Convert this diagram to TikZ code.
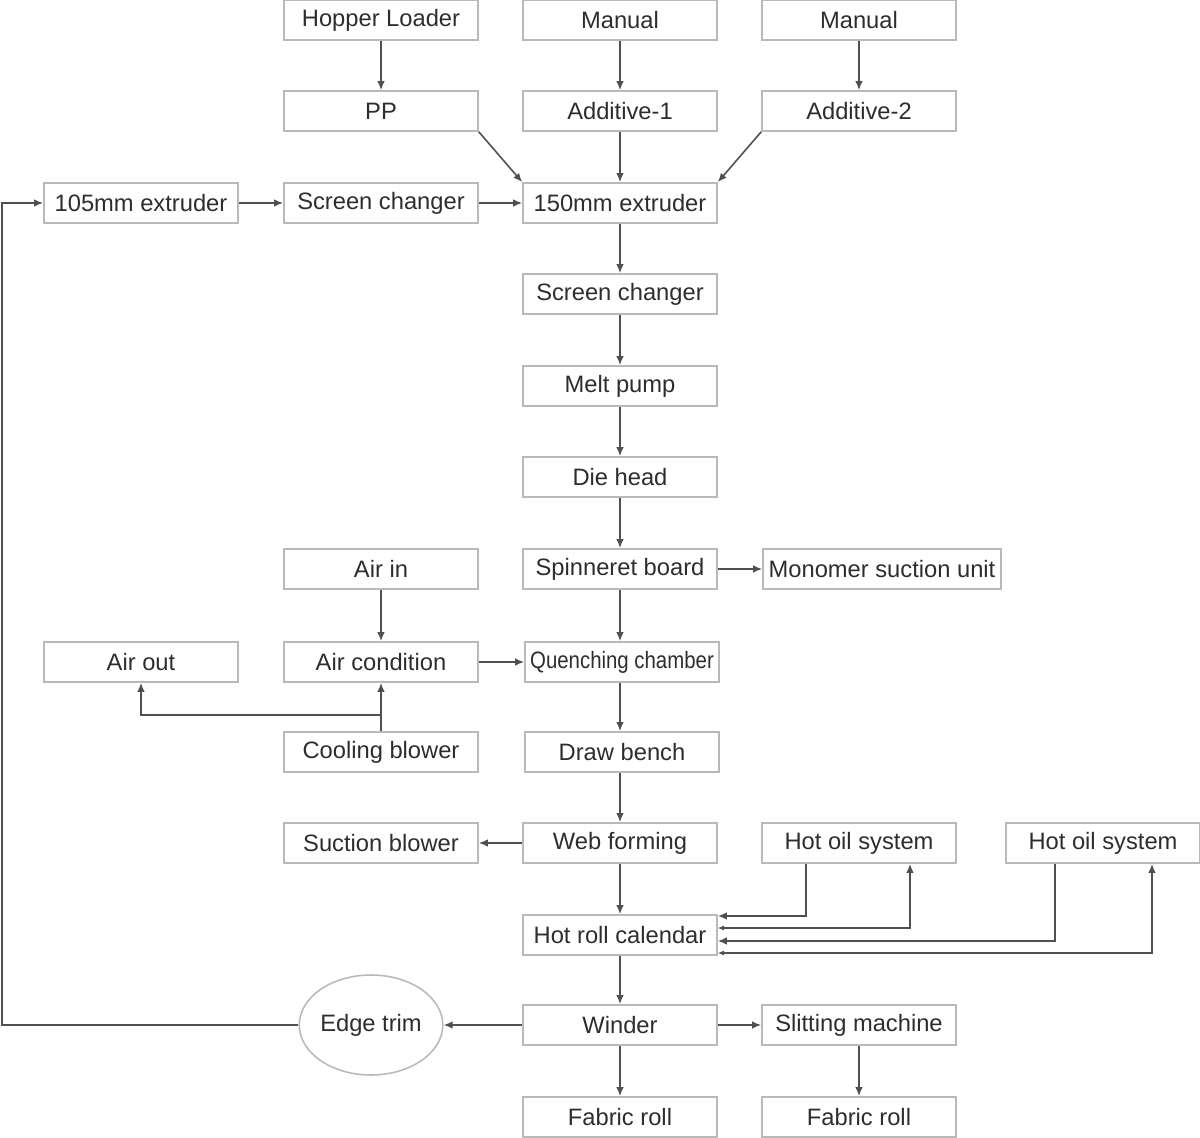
\documentclass[tikz,border=0pt]{standalone}
\usepackage{fontspec}
\setmainfont{Liberation Sans}
\usepackage{graphicx}
\usetikzlibrary{arrows.meta,shapes.geometric}

\begin{document}
\begin{tikzpicture}[x=0.02cm,y=-0.02cm,
  font=\fontsize{13.5}{16}\selectfont,
  box/.style={draw=Cbox,line width=0.9pt,text=Ctxt,minimum width=3.88cm,minimum height=0.8cm,inner sep=1pt},
  flow/.style={draw=Cline,line width=0.9pt,-{Latex[length=1.8mm,width=1.5mm]}}]

% Canvas: 1200 x 1138 px, one unit = one pixel, y grows downwards.
\useasboundingbox (0,0) rectangle (1200,1138);

% ── Colours ──────────────────────────────────────────────────────────────────
\definecolor{Cbox}{RGB}{185,185,185}   % box outlines
\definecolor{Ctxt}{RGB}{45,45,45}      % labels
\definecolor{Cline}{RGB}{80,80,80}     % connectors

% ── Process boxes ────────────────────────────────────────────────────────────
\foreach \nm/\x/\y/\txt in {
    hopper/381/20/Hopper Loader, manA/620/20/Manual, manB/859/20/Manual,
    pp/381/111/PP, addA/620/111/Additive-1, addB/859/111/Additive-2,
    extS/141/203/105mm extruder, scrA/381/203/Screen changer, extL/620/203/150mm extruder,
    scrB/620/294/Screen changer, pump/620/386/Melt pump, die/620/477/Die head,
    spin/620/569/Spinneret board, airin/381/569/Air in,
    airout/141/662/Air out, aircon/381/662/Air condition,
    cool/381/752/Cooling blower, drawb/622/752/Draw bench,
    suct/381/843/Suction blower, web/620/843/Web forming,
    oilA/859/843/Hot oil system, oilB/1103/843/Hot oil system,
    cal/620/935/Hot roll calendar,
    winder/620/1025/Winder, slit/859/1025/Slitting machine,
    rollA/620/1117/Fabric roll, rollB/859/1117/Fabric roll}
  \node[box] (\nm) at (\x,\y) {\txt};

% wider / narrower ones
\node[box,minimum width=4.76cm] (mono) at (882,569) {Monomer suction unit};
\node[box] (quench) at (622,662) {\scalebox{0.86}[1]{Quenching chamber}};

% edge trim (ellipse)
\node[ellipse,draw=Cbox,line width=0.9pt,text=Ctxt,minimum width=2.76cm,minimum height=2cm,inner sep=0pt]
  (edge) at (371,1025) {Edge trim};

% ── Feeding ──────────────────────────────────────────────────────────────────
\draw[flow] (hopper) -- (pp);
\draw[flow] (manA) -- (addA);
\draw[flow] (manB) -- (addB);
\draw[flow] (addA) -- (extL);
\draw[flow] (pp.south east) -- (extL.north west);
\draw[flow] (addB.south west) -- (extL.north east);
\draw[flow] (extS) -- (scrA);
\draw[flow] (scrA) -- (extL);

% ── Main line ────────────────────────────────────────────────────────────────
\draw[flow] (extL) -- (scrB);
\draw[flow] (scrB) -- (pump);
\draw[flow] (pump) -- (die);
\draw[flow] (die) -- (spin);
\draw[flow] (spin) -- (mono);
\draw[flow] (spin.south) -- (spin.south |- quench.north);
\draw[flow] (quench.south -| spin.south) -- (spin.south |- drawb.north);
\draw[flow] (drawb.south -| web.north) -- (web.north);
\draw[flow] (web) -- (suct);
\draw[flow] (web) -- (cal);
\draw[flow] (cal) -- (winder);
\draw[flow] (winder) -- (rollA);
\draw[flow] (winder) -- (slit);
\draw[flow] (slit) -- (rollB);
\draw[flow] (winder) -- (edge);

% ── Quench air ───────────────────────────────────────────────────────────────
\draw[flow] (airin) -- (aircon);
\draw[flow] (aircon) -- (quench);
\draw[flow] (cool) -- (aircon);
\coordinate (split) at (381,715);
\draw[flow] (split) -| (airout);

% ── Hot oil loops ────────────────────────────────────────────────────────────
\draw[flow] ([xshift=-1.06cm]oilA.south) |- ([yshift=0.38cm]cal.east);
\draw[flow,{Latex[length=1.2mm,width=1mm]}-{Latex[length=1.8mm,width=1.5mm]}]
  ([yshift=0.14cm]cal.east) -| ([xshift=1.02cm]oilA.south);
\draw[flow] ([xshift=-0.96cm]oilB.south) |- ([yshift=-0.12cm]cal.east);
\draw[flow,{Latex[length=1.2mm,width=1mm]}-{Latex[length=1.8mm,width=1.5mm]}]
  ([yshift=-0.36cm]cal.east) -| ([xshift=0.98cm]oilB.south);

% ── Edge trim recycling ──────────────────────────────────────────────────────
\coordinate (rail) at (2,203);
\draw[flow] (edge) -| (rail) -- (extS);

\end{tikzpicture}
\end{document}
